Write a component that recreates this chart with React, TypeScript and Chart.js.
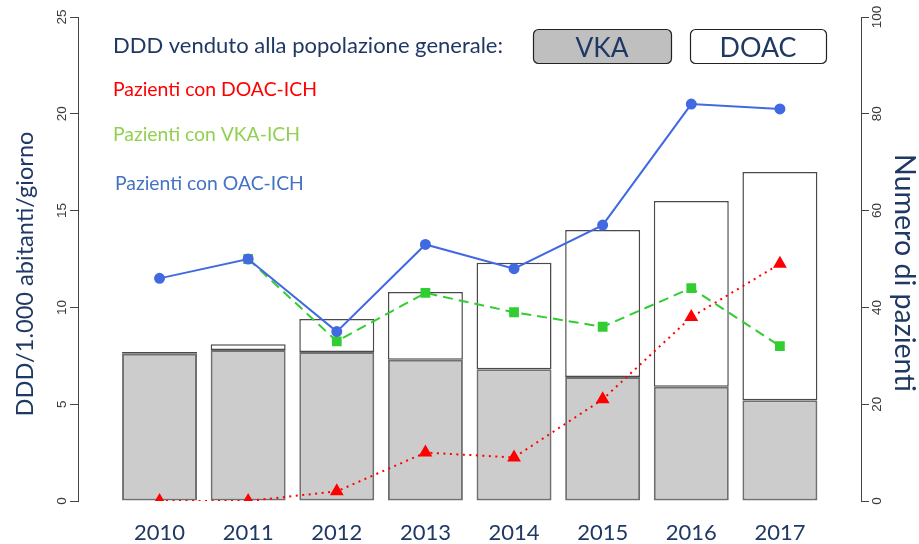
import { useEffect, useRef } from "react";
import { Chart, registerables } from "chart.js";

Chart.register(...registerables);

// ---- data ----
const years = [2010, 2011, 2012, 2013, 2014, 2015, 2016, 2017];
const vkaDDD = [7.6, 7.8, 7.7, 7.3, 6.8, 6.4, 5.9, 5.2];
const doacDDD = [0.1, 0.3, 1.7, 3.5, 5.5, 7.6, 9.6, 11.8];
const pazientiDOAC = [0, 0, 2, 10, 9, 21, 38, 49];
const pazientiVKA = [null, 50, 33, 43, 39, 36, 44, 32];
const pazientiOAC = [46, 50, 35, 53, 48, 57, 82, 81];
const leftTicks = [0, 5, 10, 15, 20, 25];
const rightTicks = [0, 20, 40, 60, 80, 100];

const NAVY = "#1f3864";
const TEXT_FAMILY = "Lato, 'Noto Sans', sans-serif";

function fitFont(ctx: CanvasRenderingContext2D, text: string, width: number, family: string) {
  ctx.font = `100px ${family}`;
  const w = ctx.measureText(text).width;
  const size = (100 * width) / w;
  ctx.font = `${size}px ${family}`;
  return size;
}

const overlay = {
  id: "overlay",
  afterDraw(chart: any) {
    const { ctx, chartArea, scales } = chart;
    const y = scales.y;
    const y1 = scales.y1;
    ctx.save();
    // rotated tick labels (R style)
    ctx.fillStyle = "#3a3a3a";
    ctx.font = "13.5px 'Liberation Sans', Arial, sans-serif";
    ctx.textAlign = "center";
    ctx.textBaseline = "middle";
    for (const t of y.ticks) {
      const py = y.getPixelForValue(t.value);
      ctx.save();
      ctx.translate(chartArea.left - 16, py);
      ctx.rotate(-Math.PI / 2);
      ctx.fillText(String(t.value), 0, 0);
      ctx.restore();
    }
    for (const t of y1.ticks) {
      const py = y1.getPixelForValue(t.value);
      ctx.save();
      ctx.translate(chartArea.right + 16, py);
      ctx.rotate(-Math.PI / 2);
      ctx.fillText(String(t.value), 0, 0);
      ctx.restore();
    }

    // axis titles
    ctx.fillStyle = NAVY;
    ctx.textBaseline = "alphabetic";
    ctx.save();
    ctx.translate(33, 274);
    ctx.rotate(-Math.PI / 2);
    fitFont(ctx, "DDD/1.000 abitanti/giorno", 285, TEXT_FAMILY);
    ctx.textAlign = "center";
    ctx.fillText("DDD/1.000 abitanti/giorno", 0, 0);
    ctx.restore();

    ctx.save();
    ctx.translate(895, 273);
    ctx.rotate(Math.PI / 2);
    fitFont(ctx, "Numero di pazienti", 238, TEXT_FAMILY);
    ctx.textAlign = "center";
    ctx.fillText("Numero di pazienti", 0, 0);
    ctx.restore();

    // legend texts
    ctx.textAlign = "left";
    ctx.fillStyle = NAVY;
    fitFont(ctx, "DDD venduto alla popolazione generale:", 390, TEXT_FAMILY);
    ctx.fillText("DDD venduto alla popolazione generale:", 113, 53);
    ctx.fillStyle = "#ff0000";
    fitFont(ctx, "Pazienti con DOAC-ICH", 204, TEXT_FAMILY);
    ctx.fillText("Pazienti con DOAC-ICH", 113, 96);
    ctx.fillStyle = "#92d050";
    fitFont(ctx, "Pazienti con VKA-ICH", 187, TEXT_FAMILY);
    ctx.fillText("Pazienti con VKA-ICH", 113, 140.5);
    ctx.fillStyle = "#4472c4";
    fitFont(ctx, "Pazienti con OAC-ICH", 189, TEXT_FAMILY);
    ctx.fillText("Pazienti con OAC-ICH", 115, 190);

    // boxes
    const box = (x: number, w: number, fill: string, label: string, tw: number) => {
      ctx.beginPath();
      ctx.roundRect(x + 0.5, 29.5, w, 34, 5);
      ctx.fillStyle = fill;
      ctx.fill();
      ctx.lineWidth = 1.2;
      ctx.strokeStyle = "#222222";
      ctx.stroke();
      ctx.fillStyle = NAVY;
      ctx.textAlign = "center";
      fitFont(ctx, label, tw, TEXT_FAMILY);
      ctx.fillText(label, x + w / 2, 57.3);
    };
    box(533, 138, "#bfbfbf", "VKA", 53);
    box(690, 136, "#ffffff", "DOAC", 77);
    ctx.restore();
  },
};

export default function App() {
  const ref = useRef<HTMLCanvasElement | null>(null);
  useEffect(() => {
    if (!ref.current) return;
    const chart = new Chart(ref.current, {
      type: "bar",
      data: {
        labels: years as any,
        datasets: [
          {
            type: "line",
            label: "Pazienti con OAC-ICH",
            data: pazientiOAC,
            yAxisID: "y1",
            borderColor: "#4169e1",
            backgroundColor: "#4169e1",
            pointBorderColor: "#4169e1",
            borderWidth: 2,
            pointStyle: "circle",
            pointRadius: 4.5,
            tension: 0,
            order: 1,
          } as any,
          {
            type: "line",
            label: "Pazienti con VKA-ICH",
            data: pazientiVKA,
            yAxisID: "y1",
            borderColor: "#32cd32",
            backgroundColor: "#32cd32",
            pointBorderColor: "#32cd32",
            borderWidth: 2,
            borderDash: [10, 6],
            pointStyle: "rect",
            pointRadius: 5.5,
            tension: 0,
            order: 2,
          },
          {
            type: "line",
            label: "Pazienti con DOAC-ICH",
            data: pazientiDOAC,
            yAxisID: "y1",
            borderColor: "#ff0000",
            backgroundColor: "#ff0000",
            pointBorderColor: "#ff0000",
            borderWidth: 2,
            borderDash: [2, 4.5],
            pointStyle: "triangle",
            pointRadius: 6,
            tension: 0,
            order: 3,
          },
          {
            type: "bar",
            label: "VKA",
            data: vkaDDD,
            yAxisID: "y",
            backgroundColor: "#cccccc",
            borderColor: "#707070",
            borderWidth: 2,
            borderSkipped: false,
            stack: "ddd",
            categoryPercentage: 1,
            barPercentage: 0.846,
            order: 10,
          },
          {
            type: "bar",
            label: "DOAC",
            data: doacDDD,
            yAxisID: "y",
            backgroundColor: "#ffffff",
            borderColor: "#4a4a4a",
            borderWidth: 1.5,
            borderSkipped: false,
            stack: "ddd",
            categoryPercentage: 1,
            barPercentage: 0.846,
            order: 10,
          },
        ],
      },
      options: {
        responsive: false,
        animation: false,
        layout: { padding: { top: 17, left: 0, right: 0, bottom: 0 } },
        plugins: { legend: { display: false }, tooltip: { enabled: false } },
        scales: {
          x: {
            type: "linear",
            min: 2009.08,
            max: 2017.915,
            offset: false,
            bounds: "data",
            stacked: true,
            grid: { display: false, drawTicks: false, offset: false },
            border: { display: false },
            afterBuildTicks: (s: any) => {
              s.ticks = years.map((v) => ({ value: v }));
            },
            afterFit: (s: any) => {
              s.height = 43;
            },
            ticks: {
              autoSkip: false,
              maxRotation: 0,
              minRotation: 0,
              padding: 19,
              color: NAVY,
              font: { family: TEXT_FAMILY, size: 22 },
              callback: (v: any) => String(v),
            },
          },
          y: {
            position: "left",
            stacked: true,
            min: 0,
            max: 25,
            afterBuildTicks: (s: any) => {
              s.ticks = leftTicks.map((v) => ({ value: v }));
            },
            afterFit: (s: any) => {
              s.width = 78;
            },
            ticks: { display: false },
            grid: { drawOnChartArea: false, drawTicks: true, tickLength: 8, color: "#444444" },
            border: { display: true, color: "#444444", width: 1 },
          },
          y1: {
            position: "right",
            min: 0,
            max: 100,
            afterBuildTicks: (s: any) => {
              s.ticks = rightTicks.map((v) => ({ value: v }));
            },
            afterFit: (s: any) => {
              s.width = 58;
            },
            ticks: { display: false },
            grid: { drawOnChartArea: false, drawTicks: true, tickLength: 8, color: "#444444" },
            border: { display: true, color: "#444444", width: 1 },
          },
        },
      } as any,
      plugins: [overlay],
    });
    return () => chart.destroy();
  }, []);
  return (
    <div style={{ position: "fixed", left: 0, top: 0, width: 919, height: 544, background: "#ffffff" }}>
      <canvas ref={ref} width={919} height={544} style={{ display: "block" }} />
    </div>
  );
}
